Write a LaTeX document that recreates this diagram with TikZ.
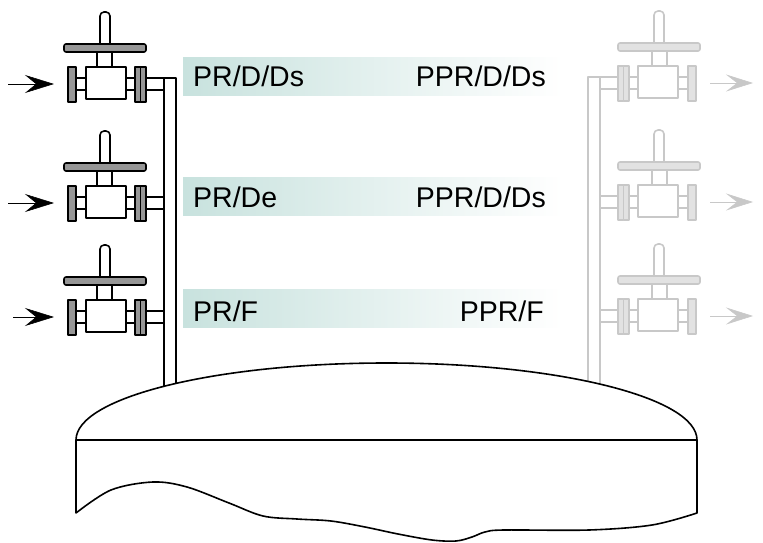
\documentclass[tikz,border=0pt]{standalone}
\usepackage{fontspec}
\setmainfont{Liberation Sans}
\usetikzlibrary{arrows.meta}
\definecolor{bandc}{RGB}{200,226,222}
\definecolor{lgc}{RGB}{200,200,200}
\definecolor{lgf}{RGB}{226,226,226}
\definecolor{dgc}{RGB}{150,150,150}
\begin{document}
\begin{tikzpicture}[x=1pt,y=-1pt,line join=round,
  vp/.style={draw=black,fill=white,line width=1.6pt},
  vg/.style={draw=black,fill=dgc,line width=1.6pt},
  arr/.style={-{Stealth[length=29pt,width=18pt,inset=11pt]},line width=0.6pt,draw=black},
  band/.style={left color=bandc,right color=white,draw=none,inner sep=0pt,
    minimum width=380pt,minimum height=38pt,anchor=west},
  lbl/.style={font=\fontsize{28.5}{30}\selectfont,inner sep=0pt},
  tank/.style={draw=black,fill=white,line width=1.6pt},
  pics/valve/.style={code={
    \draw[vp,rounded corners=4pt] (-6,-34) rectangle (4,-72);
    \draw[vg,rounded corners=2pt] (-42,-40) rectangle (40,-32);
    \draw[vp] (-9,-32) rectangle (6,-17);
    \draw[vp] (-20,-17) rectangle (20,15);
    \draw[vp] (-30,-6) rectangle (-20,6);
    \draw[vg] (-38,-17) rectangle (-30,18);
    \draw[vp] (20,-6) rectangle (29,6);
    \draw[vg] (29,-17) rectangle (34.5,18);
    \draw[vg] (34.5,-17) rectangle (40,18);
    \draw[vp] (40,-6) rectangle (58,6);
    \coordinate (-in) at (-52,0);
  }}]
\useasboundingbox (0,0) rectangle (763,543);

% text bands
\node[band] (b1) at (183,76.5) {};
\node[band] (b2) at (183,196.5) {};
\node[band] (b3) at (183,308) {};
\node[lbl,anchor=base west] (t1l) at (193,87) {PR/D/Ds};
\node[lbl,anchor=base east] (t1r) at (546,87) {PPR/D/Ds};
\node[lbl,anchor=base west] (t2l) at (193,207) {PR/De};
\node[lbl,anchor=base east] (t2r) at (546,207) {PPR/D/Ds};
\node[lbl,anchor=base west] (t3l) at (193,321) {PR/F};
\node[lbl,anchor=base east] (t3r) at (544,321) {PPR/F};

% left manifold
\draw[vp] (164,78) rectangle (176,400);
\pic (v1) at (106,84) {valve};
\pic (v2) at (106,203) {valve};
\pic (v3) at (106,317) {valve};
\coordinate (a1) at (8,84);
\coordinate (a2) at (8,203);
\coordinate (a3) at (13,317);
\draw[arr] (a1) -- (v1-in);
\draw[arr] (a2) -- (v2-in);
\draw[arr] (a3) -- (v3-in);

% right manifold (faded)
\begin{scope}[vp/.style={draw=lgc,fill=white,line width=1.6pt},
              vg/.style={draw=lgc,fill=lgf,line width=1.6pt},
              arr/.style={-{Stealth[length=27pt,width=17pt,inset=11pt]},line width=0.6pt,draw=lgc,fill=lgc}]
\draw[vp] (588,77) rectangle (600,400);
\pic[xscale=-1] (r1) at (658,83) {valve};
\pic[xscale=-1] (r2) at (658,202) {valve};
\pic[xscale=-1] (r3) at (658,316) {valve};
\coordinate (ra1) at (753,83);
\coordinate (ra2) at (753,202);
\coordinate (ra3) at (753,316);
\draw[arr] (r1-in) -- (ra1);
\draw[arr] (r2-in) -- (ra2);
\draw[arr] (r3-in) -- (ra3);
\end{scope}

% tank
\draw[tank] (76,513) -- (76,440)
  arc[start angle=180,end angle=0,x radius=310.5pt,y radius=77pt]
  -- (697,513)
  -- plot[smooth,tension=0.55] coordinates {(697,513) (652,525) (589,530) (504,530)
     (485,532) (472,537) (456,541) (432,540) (398,534) (365,527) (331,521)
     (297,519) (263,516) (229,503) (187,487) (153,482) (111,490) (76,513)}
  -- cycle;
\draw[tank] (76,440) -- (697,440);
\end{tikzpicture}
\end{document}
